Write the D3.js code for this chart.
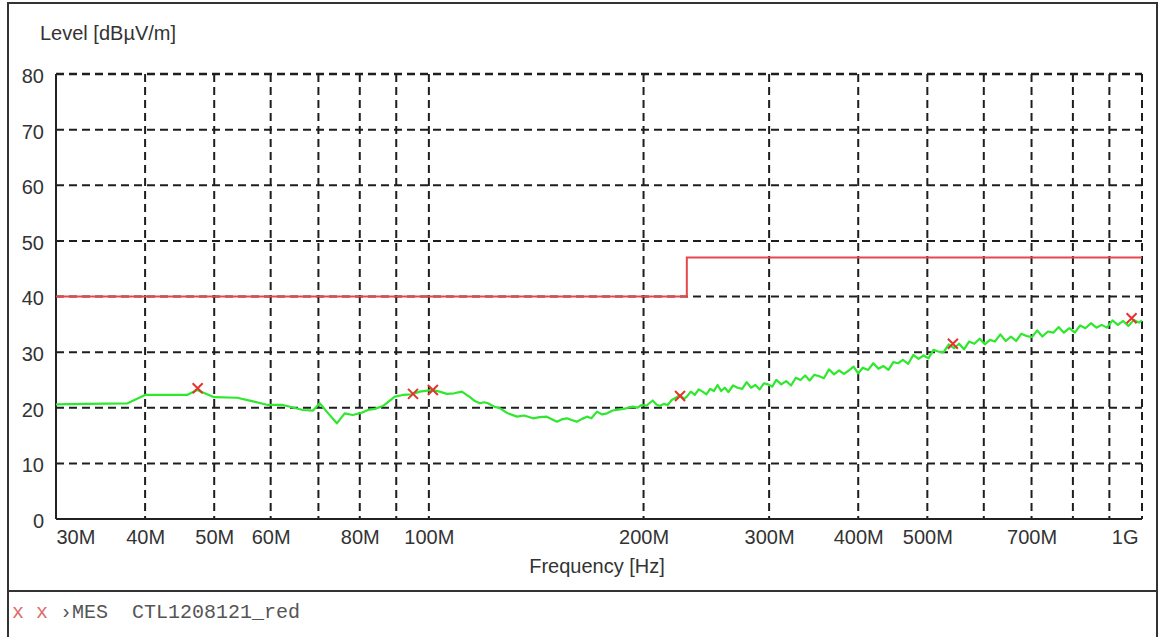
<!DOCTYPE html>
<html>
<head>
<meta charset="utf-8">
<script src="https://cdn.jsdelivr.net/npm/d3@7"></script>
<style>
    body { margin: 0; background: #fff; }
    text { font-family: "Liberation Sans", Arial, sans-serif; fill: #333; }
    .legend text { font-family: "Liberation Mono", "Courier New", monospace; white-space: pre; }
</style>
</head>
<body>
<div id="chart"></div>
<script>
// y axis ticks (dBuV/m)
var yTicks = [0, 10, 20, 30, 40, 50, 60, 70, 80];

// x axis, MHz
var xTickValues = [30, 40, 50, 60, 80, 100, 200, 300, 400, 500, 700, 1000];
var xTickLabels = ['30M', '40M', '50M', '60M', '80M', '100M', '200M', '300M', '400M', '500M', '700M', '1G'];
var gridFreqs = [40, 50, 60, 70, 80, 90, 100, 200, 300, 400, 500, 600, 700, 800, 900, 1000];

// limit line
var limitFreqs = [30, 230, 230, 1000];
var limitLevels = [40, 40, 47, 47];

// scan [MHz, dBuV/m]
var scanData = [
    [30, 20.6], [33, 20.7], [37.8, 20.8], [40, 22.3], [42, 22.3], [45.8, 22.3], [47.3, 23.2],
    [50, 21.9], [53.8, 21.8], [56.5, 21.2], [59.5, 20.5], [62.4, 20.5], [66.6, 19.6], [68.8, 19.5],
    [70.3, 20.8], [71.9, 19.3], [74.3, 17.2], [76.2, 19.0], [78.2, 18.7], [80.5, 19.1], [82.1, 19.6],
    [84.0, 19.8], [86.2, 20.3], [89.6, 22.0], [91.9, 22.3], [94.5, 22.4], [97.1, 22.9], [101.3, 23.2],
    [103.5, 22.9], [106, 22.5], [108.5, 22.6], [111.2, 22.9], [114.2, 21.9], [116, 21.2], [117.9, 20.8],
    [119.5, 21.0], [121, 20.8], [123.5, 20.2], [125.8, 19.9], [129, 19.0], [132.9, 18.4], [136, 18.6],
    [140, 18.1], [143, 18.3], [146.3, 18.4], [149, 17.9], [151.2, 17.5], [153.5, 17.9], [156.2, 18.1],
    [158.5, 17.8], [161.2, 17.5], [164, 18.0], [166.6, 18.4], [169, 18.1], [172.1, 19.3], [175, 18.8],
    [177.8, 19.0], [181, 19.5], [185.3, 19.7], [189, 19.9], [193.2, 20.2], [196, 20.0], [198.8, 20.5],
    [202, 20.4], [206, 21.3], [208.5, 20.6], [210.8, 20.3], [213.5, 20.7], [216.2, 20.5], [219, 21.4],
    [222, 21.8], [225, 22.3], [228, 21.6],
    [230, 22.0], [233, 22.9], [236, 22.3], [239, 23.3], [242, 22.9], [245, 22.4], [248, 23.4],
    [251, 23.0], [254, 24.1], [257, 23.0], [260, 23.6], [263, 22.8], [267, 24.0], [271, 23.6],
    [275, 23.4], [279, 24.6], [283, 23.6], [287, 24.1], [291, 23.3], [295, 24.4], [299, 24.2],
    [303, 23.8], [307, 25.0], [312, 24.2], [317, 24.8], [322, 24.0], [327, 25.4], [332, 25.0],
    [337, 25.8], [342, 24.9], [347, 25.9], [352, 25.7], [358, 25.3], [364, 26.9], [370, 26.0],
    [376, 26.7], [382, 26.1], [388, 26.7], [394, 27.4], [400, 26.2], [406, 27.2], [413, 26.8],
    [420, 28.0], [427, 27.0], [434, 27.5], [441, 26.8], [448, 28.2], [455, 28.0], [462, 28.6],
    [470, 27.9], [478, 29.5], [486, 28.8], [494, 29.4], [502, 28.9], [510, 30.4], [518, 30.1],
    [527, 30.0], [536, 31.4], [545, 30.7], [554, 31.5], [563, 30.5], [572, 31.9], [582, 31.5],
    [592, 32.4], [602, 31.4], [612, 32.2], [622, 31.9], [633, 33.2], [644, 32.0], [655, 32.8],
    [666, 32.0], [677, 33.3], [689, 32.9], [701, 32.7], [713, 33.9], [725, 32.8], [738, 33.7],
    [751, 33.5], [764, 34.5], [777, 33.5], [791, 34.3], [805, 33.5], [819, 34.8], [833, 34.3],
    [848, 35.2], [863, 34.4], [878, 34.9], [893, 34.4], [909, 35.7], [925, 34.9], [941, 35.6],
    [957, 34.7], [974, 35.8], [990, 35.3], [1000, 35.7]
];

// final measurement points
var markerFreqs = [47.4, 95, 101.3, 225, 543, 967];
var markerLevels = [23.5, 22.5, 23.2, 22.1, 31.5, 36.1];

EmiPlot = function(_parentElement) {
    this.parentElement = _parentElement;
    this.initVis();
}

EmiPlot.prototype.initVis = function() {
    var vis = this;

    vis.margin = { top: 74, right: 20, bottom: 118, left: 56 };
    vis.width = 1162 - vis.margin.left - vis.margin.right;
    vis.height = 637 - vis.margin.top - vis.margin.bottom;

    vis.root = d3.select('#' + vis.parentElement)
        .append('svg')
        .attr('width', 1162)
        .attr('height', 637);

    // outer frame + legend separator
    vis.root.append('rect')
        .attr('x', 8).attr('y', 3)
        .attr('width', 1149).attr('height', 660)
        .attr('fill', 'none')
        .attr('stroke', '#333')
        .attr('stroke-width', 2);

    vis.root.append('line')
        .attr('x1', 8).attr('x2', 1157)
        .attr('y1', 591).attr('y2', 591)
        .attr('stroke', '#333')
        .attr('stroke-width', 2);

    vis.svg = vis.root.append('g')
        .attr('transform', "translate(" + vis.margin.left + "," + vis.margin.top + ")");

    vis.xScale = d3.scaleLog()
        .domain([30, 1000])
        .range([0, vis.width]);

    vis.yScale = d3.scaleLinear()
        .domain([0, 80])
        .range([vis.height, 0]);

    vis.updateVis();
}

EmiPlot.prototype.updateVis = function() {
    var vis = this;

    // grid
    vis.svg.selectAll('.hgrid')
        .data(yTicks.filter(function(d) { return d > 0; }))
        .enter()
        .append('line')
        .attr('class', 'hgrid')
        .attr('x1', 0)
        .attr('x2', vis.width)
        .attr('y1', function(d) { return vis.yScale(d); })
        .attr('y2', function(d) { return vis.yScale(d); })
        .attr('stroke', '#1e1e1e')
        .attr('stroke-width', function(d) { return d === 80 ? 2.5 : 2; })
        .attr('stroke-dasharray', '8,5');

    vis.svg.selectAll('.vgrid')
        .data(gridFreqs)
        .enter()
        .append('line')
        .attr('class', 'vgrid')
        .attr('x1', function(d) { return vis.xScale(d); })
        .attr('x2', function(d) { return vis.xScale(d); })
        .attr('y1', 0)
        .attr('y2', vis.height)
        .attr('stroke', '#1e1e1e')
        .attr('stroke-width', 2)
        .attr('stroke-dasharray', '8,5');

    // solid axis lines
    vis.svg.append('line')
        .attr('x1', 0).attr('x2', 0)
        .attr('y1', 0).attr('y2', vis.height)
        .attr('stroke', '#222').attr('stroke-width', 2);
    vis.svg.append('line')
        .attr('x1', 0).attr('x2', vis.width)
        .attr('y1', vis.height).attr('y2', vis.height)
        .attr('stroke', '#222').attr('stroke-width', 2);

    // axes
    var yAxis = d3.axisLeft(vis.yScale)
        .tickValues(yTicks)
        .tickSize(0)
        .tickPadding(12);
    var yG = vis.svg.append('g').attr('class', 'y-axis axis').call(yAxis);
    yG.select('.domain').remove();
    yG.selectAll('text')
        .style('font-size', '20px')
        .style('font-family', '"Liberation Sans", Arial, sans-serif')
        .attr('fill', '#333')
        .attr('dy', '0.42em');

    var xAxis = d3.axisBottom(vis.xScale)
        .tickValues(xTickValues)
        .tickFormat(function(d, i) { return xTickLabels[i]; })
        .tickSize(0)
        .tickPadding(11);
    var xG = vis.svg.append('g')
        .attr('class', 'x-axis axis')
        .attr('transform', "translate(0," + vis.height + ")")
        .call(xAxis);
    xG.select('.domain').remove();
    xG.selectAll('text')
        .style('font-size', '20px')
        .style('font-family', '"Liberation Sans", Arial, sans-serif')
        .attr('fill', '#333')
        .attr('text-anchor', function(d, i) {
            if (i === 0) return 'start';
            if (i === xTickValues.length - 1) return 'end';
            return 'middle';
        })
        .attr('dx', function(d, i) { return i === xTickValues.length - 1 ? -4 : 0; });

    vis.root.append('text')
        .attr('x', 40).attr('y', 40)
        .style('font-size', '20px')
        .text('Level [dBµV/m]');

    vis.root.append('text')
        .attr('x', 597).attr('y', 573)
        .attr('text-anchor', 'middle')
        .style('font-size', '20px')
        .text('Frequency [Hz]');

    // limit line
    var lineGen = d3.line()
        .x(function(d) { return vis.xScale(d[0]); })
        .y(function(d) { return vis.yScale(d[1]); });

    vis.svg.append('path')
        .datum(limitFreqs.map(function(f, i) { return [f, limitLevels[i]]; }))
        .attr('d', lineGen)
        .attr('fill', 'none')
        .attr('stroke', '#e8474c')
        .attr('stroke-width', 2);

    // scan trace
    vis.svg.append('path')
        .datum(scanData)
        .attr('d', lineGen)
        .attr('fill', 'none')
        .attr('stroke', '#2ee82e')
        .attr('stroke-width', 2.2)
        .attr('stroke-linejoin', 'round');

    // markers
    vis.svg.selectAll('.marker')
        .data(markerFreqs.map(function(f, i) { return { f: f, v: markerLevels[i] }; }))
        .enter()
        .append('path')
        .attr('class', 'marker')
        .attr('transform', function(d) {
            return "translate(" + vis.xScale(d.f) + "," + vis.yScale(d.v) + ")";
        })
        .attr('d', 'M-5,-5L5,5M-5,5L5,-5')
        .attr('stroke', '#e3342f')
        .attr('stroke-width', 2)
        .attr('fill', 'none');

    // legend
    var legend = vis.root.append('g').attr('class', 'legend');
    var lt = legend.append('text')
        .attr('x', 12).attr('y', 618)
        .style('font-size', '20px');
    lt.append('tspan').attr('fill', '#e06a6a').text('x x ');
    lt.append('tspan').attr('fill', '#555').text('›MES  CTL1208121_red');
}

var plot = new EmiPlot('chart');
</script>
</body>
</html>
